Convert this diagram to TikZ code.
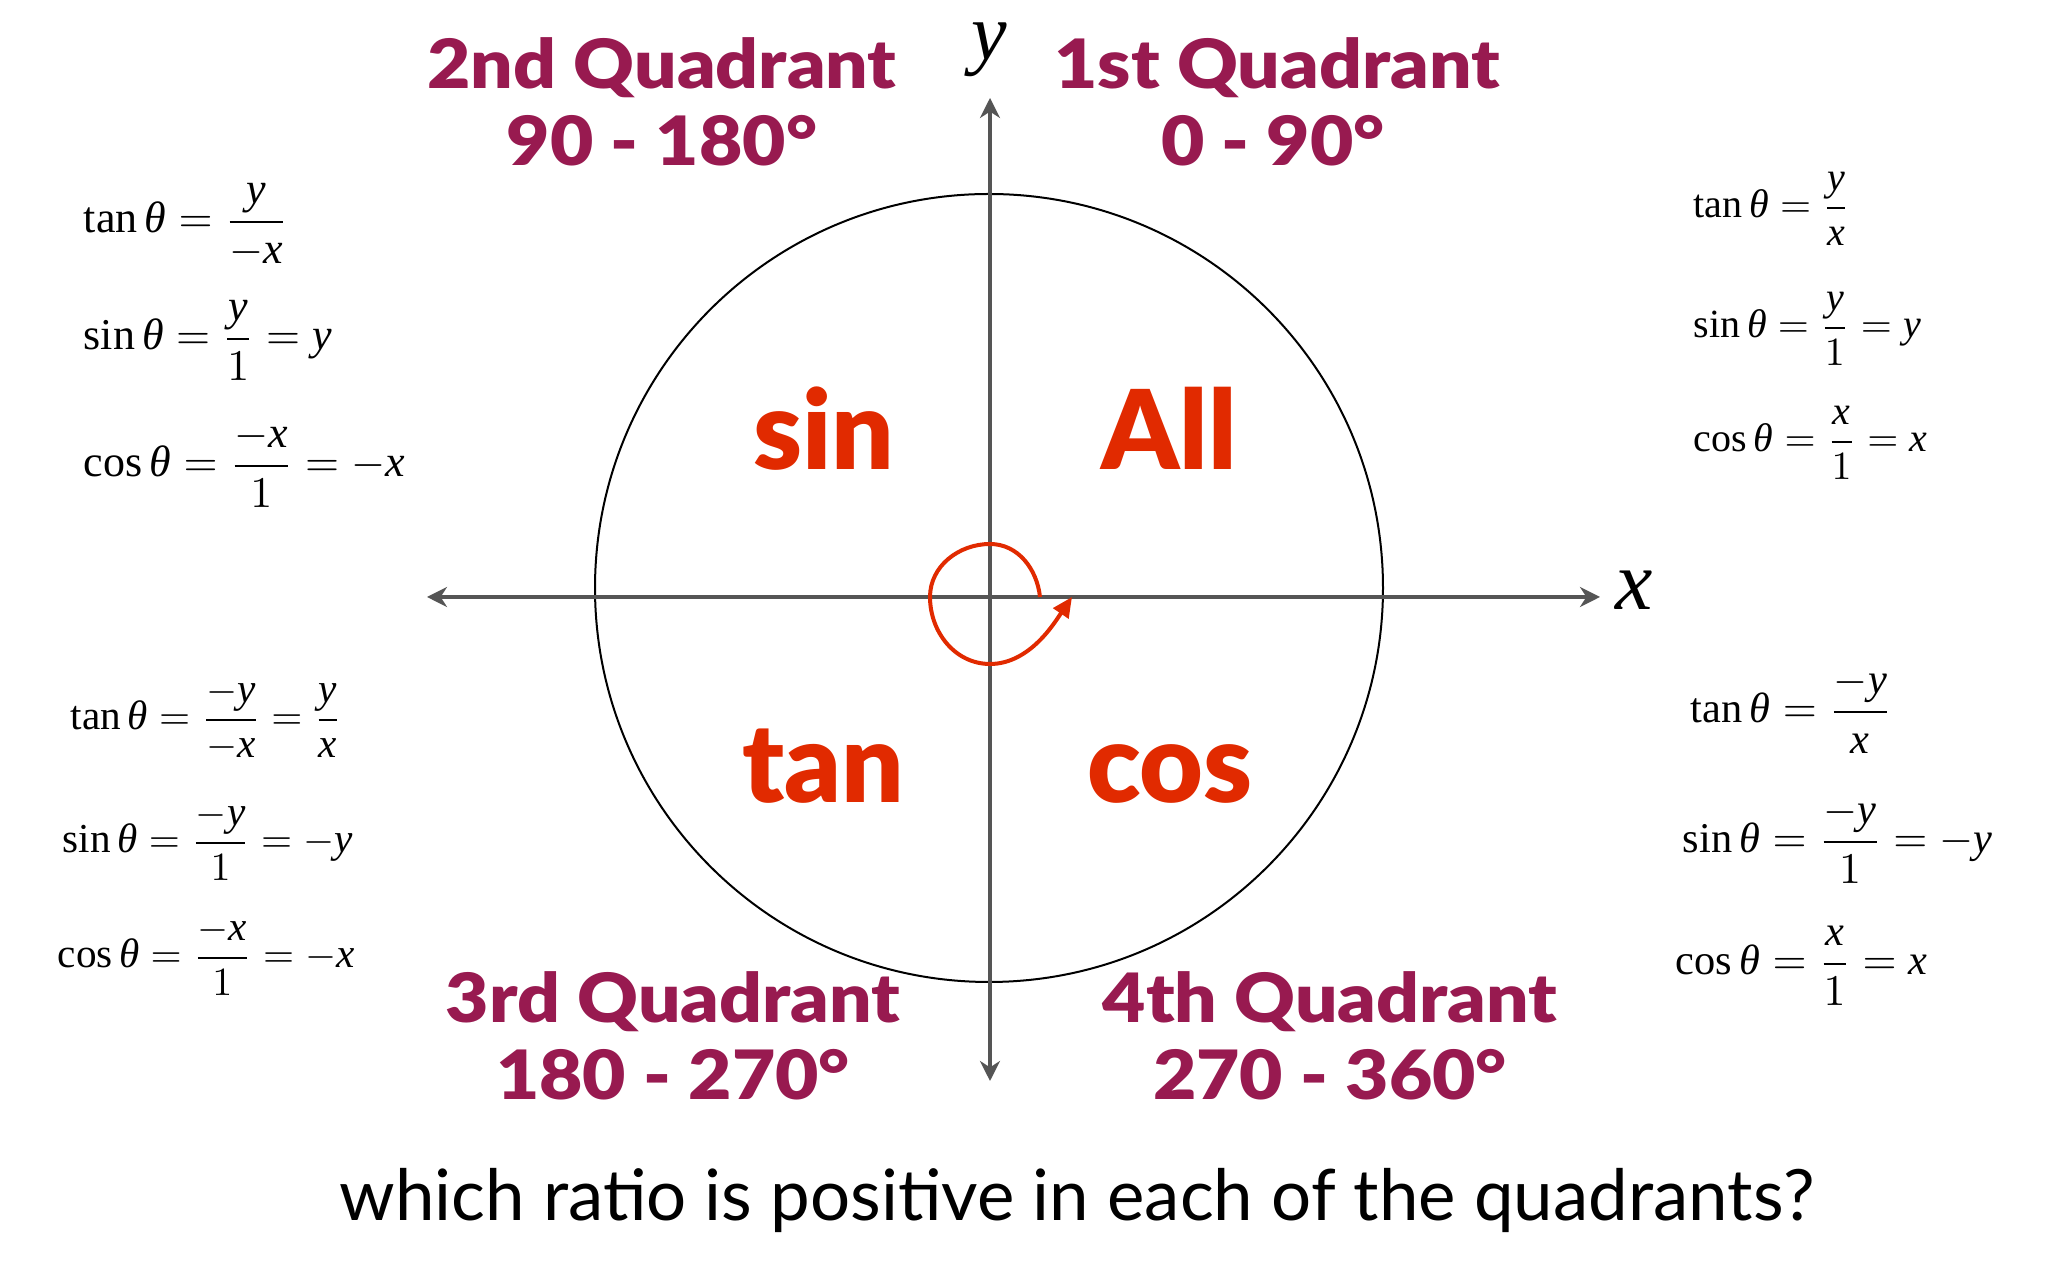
\documentclass[tikz,border=0pt]{standalone}
\usepackage{amsmath}
\usepackage{fontspec}
\setmainfont{Liberation Serif}
\newfontfamily\gill{Lato}
\newfontfamily\gillb{Lato Black}
\newfontfamily\gillbw{Lato Black}[FakeStretch=1.1]
\usetikzlibrary{arrows.meta}
\definecolor{quadcol}{HTML}{981A50}
\definecolor{ratiocol}{HTML}{E12A00}
\definecolor{axisgray}{HTML}{555555}
\newcommand{\vx}{\textit{x}}
\newcommand{\vy}{\textit{y}}
\newcommand{\vt}{\textit{θ}}
\begin{document}
\begin{tikzpicture}[x=0.25pt,y=-0.25pt,
  quadt/.style={font=\gillbw\fontsize{17}{20}\selectfont, text=quadcol, anchor=base, inner sep=0pt},
  bigw/.style={font=\gillb\fontsize{27.5}{32}\selectfont, text=ratiocol, anchor=base, inner sep=0pt},
  fml/.style={anchor=base west, inner sep=0pt, font=\fontsize{#1}{#1}\selectfont},
  axisline/.style={draw=axisgray, line width=0.8pt, {Stealth[length=5pt,width=5pt,inset=1.6pt]}-{Stealth[length=5pt,width=5pt,inset=1.6pt]}},
  spiral/.style={draw=ratiocol, line width=1pt, -{Triangle[length=5pt,width=4.5pt]}},
  axlabel/.style={inner sep=0pt, font=\fontsize{#1}{#1}\selectfont}
]
\useasboundingbox (0,0) rectangle (2048,1280);
\fill[white] (0,0) rectangle (2048,1280);

% axes
\coordinate (O) at (990,597);
\coordinate (C) at (989,588);
\coordinate (xl) at (427,597);
\coordinate (xr) at (1600,597);
\coordinate (yt) at (990,98);
\coordinate (yb) at (990,1081);
\draw[black, line width=0.5pt] (C) circle[radius=394];
\draw[axisline] (xl) -- (xr);
\draw[axisline] (yb) -- (yt);
\node[axlabel=21] (xlab) at (1634,590) {\vx};
\node[axlabel=20] (ylab) at (989,50) {\vy};

% spiral
\coordinate (sA) at (1040,597);
\coordinate (sB) at (990,544);
\coordinate (sC) at (930,597);
\coordinate (sD) at (990,664);
\coordinate (sE) at (1072,597);
\draw[spiral] (sA) .. controls (1037,569) and (1018,544) .. (sB)
  .. controls (959,544) and (930,566) .. (sC)
  .. controls (930,632) and (955,664) .. (sD)
  .. controls (1030,664) and (1055,622) .. (sE);

% quadrant titles
\node[quadt] (q2) at (662,89) {2nd Quadrant};
\node[quadt] (q2r) at (662,166) {90 - 180°};
\node[quadt] (q1) at (1277,89) {1st Quadrant};
\node[quadt] (q1r) at (1273,166) {0 - 90°};
\node[quadt] (q3) at (673,1023) {3rd Quadrant};
\node[quadt] (q3r) at (673,1100) {180 - 270°};
\node[quadt] (q4) at (1330,1023) {4th Quadrant};
\node[quadt] (q4r) at (1330,1100) {270 - 360°};

% positive ratios
\node[bigw] (wsin) at (824,470) {sin};
\node[bigw] (wall) at (1169,470) {All};
\node[bigw] (wtan) at (823,803) {tan};
\node[bigw] (wcos) at (1170,803) {cos};

% formulas, 2nd quadrant
\node[fml=11] (f2t) at (83,233) {$\tan\vt = \dfrac{\vy}{-\vx}$};
\node[fml=11] (f2s) at (83,350) {$\sin\vt = \dfrac{\vy}{1} = \vy$};
\node[fml=11] (f2c) at (83,477) {$\cos\vt = \dfrac{-\vx}{1} = -\vx$};
% 1st quadrant
\node[fml=10] (f1t) at (1693,218) {$\tan\vt = \dfrac{\vy}{\vx}$};
\node[fml=10] (f1s) at (1693,338) {$\sin\vt = \dfrac{\vy}{1} = \vy$};
\node[fml=10] (f1c) at (1693,452) {$\cos\vt = \dfrac{\vx}{1} = \vx$};
% 3rd quadrant
\node[fml=10.3] (f3t) at (70,730) {$\tan\vt = \dfrac{-\vy}{-\vx} = \dfrac{\vy}{\vx}$};
\node[fml=10.3] (f3s) at (62,853) {$\sin\vt = \dfrac{-\vy}{1} = -\vy$};
\node[fml=10.3] (f3c) at (57,968) {$\cos\vt = \dfrac{-\vx}{1} = -\vx$};
% 4th quadrant
\node[fml=10.6] (f4t) at (1690,723) {$\tan\vt = \dfrac{-\vy}{\vx}$};
\node[fml=10.6] (f4s) at (1682,853) {$\sin\vt = \dfrac{-\vy}{1} = -\vy$};
\node[fml=10.6] (f4c) at (1675,975) {$\cos\vt = \dfrac{\vx}{1} = \vx$};

% question
\node[anchor=base, inner sep=0pt, font=\gill\fontsize{17.7}{21}\selectfont] (q) at (1077,1221) {which ratio is positive in each of the quadrants?};
\end{tikzpicture}
\end{document}
